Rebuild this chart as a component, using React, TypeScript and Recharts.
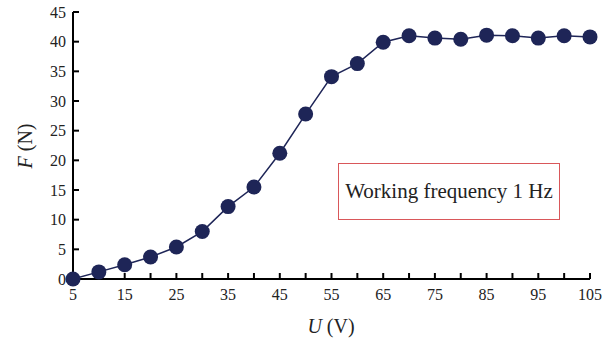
import { Line, LineChart, XAxis, YAxis } from "recharts"

const voltage = [5, 10, 15, 20, 25, 30, 35, 40, 45, 50, 55, 60, 65, 70, 75, 80, 85, 90, 95, 100, 105]
const force = [0, 1.2, 2.4, 3.7, 5.4, 8.0, 12.2, 15.5, 21.2, 27.8, 34.1, 36.3, 39.9, 41.0, 40.6, 40.4, 41.1, 41.0, 40.6, 41.0, 40.8]
const xTicks = [5, 10, 15, 20, 25, 30, 35, 40, 45, 50, 55, 60, 65, 70, 75, 80, 85, 90, 95, 100, 105]
const xLabels = [5, 15, 25, 35, 45, 55, 65, 75, 85, 95, 105]
const yTicks = [0, 5, 10, 15, 20, 25, 30, 35, 40, 45]

const data = voltage.map((u, i) => ({ u, f: force[i] }))

const navy = "#1e2557"
const font = "'Liberation Serif', 'DejaVu Serif', serif"

export default function App() {
  return (
    <div style={{ position: "absolute", left: 0, top: 0, width: 616, height: 343, background: "#fff", fontFamily: font }}>
      <LineChart width={616} height={343} data={data} margin={{ top: 12, right: 26, bottom: 0, left: 0 }}>
        <XAxis
          dataKey="u"
          type="number"
          domain={[5, 105]}
          ticks={xTicks}
          interval={0}
          tickFormatter={(v) => (xLabels.includes(v) ? `${v}` : "")}
          height={64}
          tickSize={-6}
          tickMargin={16}
          axisLine={{ stroke: "#000", strokeWidth: 2 }}
          tickLine={{ stroke: "#000", strokeWidth: 2 }}
          tick={{ fill: "#222", fontSize: 16, fontFamily: font }}
          label={{
            content: () => (
              <text x={331} y={333} textAnchor="middle" fontSize={20} fontFamily={font} fill="#222">
                <tspan fontStyle="italic">U</tspan>
                <tspan> (V)</tspan>
              </text>
            ),
          }}
        />
        <YAxis
          type="number"
          domain={[0, 45]}
          ticks={yTicks}
          interval={0}
          width={73}
          tickSize={-6}
          tickMargin={13}
          axisLine={{ stroke: "#000", strokeWidth: 2 }}
          tickLine={{ stroke: "#000", strokeWidth: 2 }}
          tick={{ fill: "#222", fontSize: 16, fontFamily: font }}
          label={{
            content: () => (
              <text x={32} y={146} textAnchor="middle" fontSize={20} fontFamily={font} fill="#222" transform="rotate(-90 32 146)">
                <tspan fontStyle="italic">F</tspan>
                <tspan> (N)</tspan>
              </text>
            ),
          }}
        />
        <Line
          dataKey="f"
          type="linear"
          stroke={navy}
          strokeWidth={1.5}
          dot={{ r: 7.5, fill: navy, stroke: "none" }}
          activeDot={false}
          isAnimationActive={false}
        />
      </LineChart>
      <div
        style={{
          position: "absolute",
          left: 338,
          top: 163,
          width: 222,
          height: 57,
          boxSizing: "border-box",
          border: "1.5px solid #d9575a",
          display: "flex",
          alignItems: "center",
          justifyContent: "center",
          fontSize: 21,
          color: "#222",
          fontFamily: font,
        }}
      >
        Working frequency 1 Hz
      </div>
    </div>
  )
}
